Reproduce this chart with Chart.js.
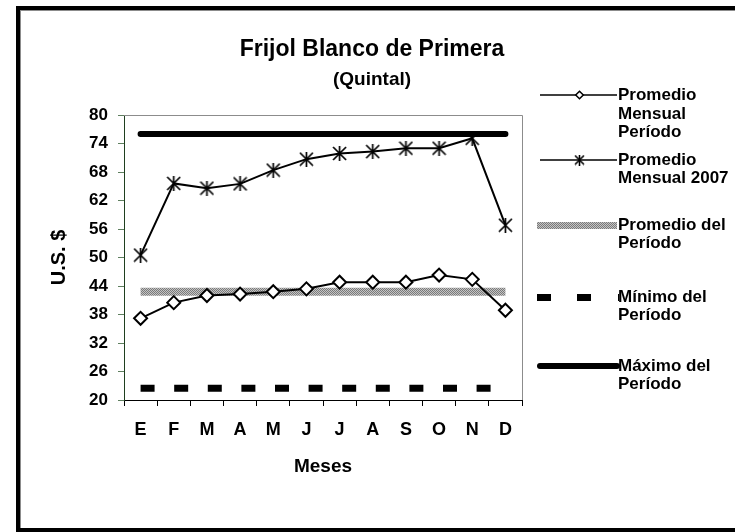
<!DOCTYPE html>
<html>
<head>
<meta charset="utf-8">
<script src="https://cdn.jsdelivr.net/npm/chart.js@4.4.0/dist/chart.umd.min.js"></script>
<style>
  html, body { margin: 0; padding: 0; background: #fff; overflow: hidden; }
  #wrap { position: relative; width: 735px; height: 532px; }
</style>
</head>
<body>
<div id="wrap"><canvas id="chart" width="735" height="532"></canvas></div>
<script>
/* ---------- Data ---------- */

const months = ['E', 'F', 'M', 'A', 'M', 'J', 'J', 'A', 'S', 'O', 'N', 'D'];
const promMensualPeriodo = [37.2, 40.5, 42.0, 42.3, 42.8, 43.4, 44.8, 44.8, 44.8, 46.3, 45.4, 38.9];
const promMensual2007 = [50.5, 65.6, 64.6, 65.5, 68.4, 70.7, 71.9, 72.3, 73.0, 73.0, 75.1, 56.8];
const promedioPeriodo = 42.8;
const minimoPeriodo = 22.5;
const maximoPeriodo = 76.0;
const yTicks = [20, 26, 32, 38, 44, 50, 56, 62, 68, 74, 80];

const chartTitle = 'Frijol Blanco de Primera';
const chartSubtitle = '(Quintal)';
const seriesLabels = [
  ['Promedio', 'Mensual', 'Período'],
  ['Promedio', 'Mensual 2007'],
  ['Promedio del', 'Período'],
  ['Mínimo del', 'Período'],
  ['Máximo del', 'Período'],
];

const FONT = "'Liberation Sans', Arial, sans-serif";

/* ---------- Marker / pattern helpers ---------- */

function makeAsterisk(size, lw) {
  const c = document.createElement('canvas');
  c.width = c.height = size;
  const g = c.getContext('2d');
  const m = size / 2, r = size / 2 - 1;
  g.strokeStyle = '#000';
  g.lineWidth = lw;
  g.beginPath();
  g.moveTo(m - r, m - r); g.lineTo(m + r, m + r);
  g.moveTo(m + r, m - r); g.lineTo(m - r, m + r);
  g.moveTo(m, 0); g.lineTo(m, size);
  g.stroke();
  return c;
}

function makeGrayPattern() {
  const c = document.createElement('canvas');
  c.width = c.height = 2;
  const g = c.getContext('2d');
  g.fillStyle = '#c4c4c4';
  g.fillRect(0, 0, 2, 2);
  g.fillStyle = '#7a7a7a';
  g.fillRect(0, 0, 1, 1);
  g.fillRect(1, 1, 1, 1);
  return g.createPattern(c, 'repeat');
}

const asterisk = makeAsterisk(15, 1.7);
const asteriskSmall = makeAsterisk(11, 1.6);
const grayPattern = makeGrayPattern();

/* ---------- Plugins ---------- */

// outer chart frame + plot-area border (top/right)
const framePlugin = {
  id: 'frame',
  beforeDraw(chart) {
    const ctx = chart.ctx;
    ctx.save();
    ctx.fillStyle = '#fff';
    ctx.fillRect(0, 0, chart.width, chart.height);
    ctx.fillStyle = '#000';
    ctx.fillRect(16, 6, chart.width - 16, 4);
    ctx.fillRect(16, 6, 4, chart.height - 6);
    ctx.fillRect(16, chart.height - 4, chart.width - 16, 4);
    ctx.fillStyle = '#8c8c8c';
    ctx.fillRect(20, 10, 1, chart.height - 14);
    ctx.fillRect(20, 10, chart.width - 20, 1);
    ctx.restore();
  },
  beforeDatasetsDraw(chart) {
    const { ctx, chartArea: a } = chart;
    ctx.save();
    ctx.strokeStyle = '#8c8c8c';
    ctx.lineWidth = 1;
    ctx.beginPath();
    ctx.moveTo(a.left, a.top + 0.5);
    ctx.lineTo(a.right + 0.5, a.top + 0.5);
    ctx.lineTo(a.right + 0.5, a.bottom);
    ctx.stroke();
    ctx.restore();
  },
};

// title is centred over the whole chart object (Excel style), not the plot
const headerPlugin = {
  id: 'header',
  afterDraw(chart) {
    const ctx = chart.ctx;
    ctx.save();
    ctx.fillStyle = '#000';
    ctx.textAlign = 'center';
    ctx.textBaseline = 'middle';
    ctx.font = 'bold 23px ' + FONT;
    ctx.fillText(chartTitle, 372, 50);
    ctx.font = 'bold 19px ' + FONT;
    ctx.fillText(chartSubtitle, 372, 80);
    ctx.restore();
  },
};

const sideLegend = {
  id: 'sideLegend',
  afterDraw(chart) {
    const ctx = chart.ctx;
    const x0 = 540, x1 = 617, tx = 618;
    const rows = [
      { y: 95, lines: [95, 114, 132] },
      { y: 160, lines: [160, 178] },
      { y: 225, lines: [225, 243] },
      { y: 297, lines: [297, 315] },
      { y: 366, lines: [366, 384] },
    ];
    ctx.save();
    rows.forEach((row, i) => {
      const xm = (x0 + x1) / 2 + 1;
      ctx.strokeStyle = '#000';
      ctx.lineCap = 'butt';
      if (i === 0 || i === 1) {
        ctx.lineWidth = 1.5;
        ctx.beginPath();
        ctx.moveTo(x0, row.y); ctx.lineTo(x1, row.y);
        ctx.stroke();
        if (i === 0) {
          const r = 3.8;
          ctx.fillStyle = '#fff';
          ctx.beginPath();
          ctx.moveTo(xm, row.y - r); ctx.lineTo(xm + r, row.y);
          ctx.lineTo(xm, row.y + r); ctx.lineTo(xm - r, row.y);
          ctx.closePath();
          ctx.fill(); ctx.stroke();
        } else {
          ctx.drawImage(asteriskSmall, xm - 5.5, row.y - 5.5);
        }
      } else if (i === 2) {
        ctx.fillStyle = grayPattern;
        ctx.fillRect(x0 - 3, row.y - 3, x1 - x0 + 3, 7);
      } else if (i === 3) {
        ctx.fillStyle = '#000';
        ctx.fillRect(x0 - 3, row.y - 3, 14, 7);
        ctx.fillRect(x0 + 37, row.y - 3, 14, 7);
        ctx.fillRect(x1 + 1, row.y - 3, 1, 7);
      } else {
        ctx.lineWidth = 6;
        ctx.lineCap = 'round';
        ctx.beginPath();
        ctx.moveTo(x0, row.y); ctx.lineTo(x1, row.y);
        ctx.stroke();
      }
      ctx.fillStyle = '#000';
      ctx.font = 'bold 17px ' + FONT;
      ctx.textAlign = 'left';
      ctx.textBaseline = 'middle';
      seriesLabels[i].forEach((t, k) => ctx.fillText(t, tx, row.lines[k]));
    });
    ctx.restore();
  },
};

/* ---------- Chart ---------- */

new Chart(document.getElementById('chart'), {
  type: 'line',
  data: {
    labels: months,
    datasets: [
      {
        label: seriesLabels[0].join(' '),
        data: promMensualPeriodo,
        borderColor: '#000',
        borderWidth: 2,
        pointStyle: 'rectRot',
        pointRadius: 6.5,
        pointBorderWidth: 2,
        pointBackgroundColor: '#fff',
        pointBorderColor: '#000',
        order: 1,
      },
      {
        label: seriesLabels[1].join(' '),
        data: promMensual2007,
        borderColor: '#000',
        borderWidth: 2,
        pointStyle: asterisk,
        pointRadius: 7,
        order: 0,
      },
      {
        label: seriesLabels[2].join(' '),
        data: months.map(() => promedioPeriodo),
        borderColor: grayPattern,
        borderWidth: 8,
        pointRadius: 0,
        order: 2,
      },
      {
        label: seriesLabels[3].join(' '),
        data: months.map(() => minimoPeriodo),
        borderColor: '#000',
        borderWidth: 7,
        borderDash: [14, 19.6],
        pointRadius: 0,
        order: 3,
      },
      {
        label: seriesLabels[4].join(' '),
        data: months.map(() => maximoPeriodo),
        borderColor: '#000',
        borderWidth: 6,
        borderCapStyle: 'round',
        pointRadius: 0,
        order: 4,
      },
    ],
  },
  options: {
    responsive: false,
    animation: false,
    layout: { padding: { left: 47, right: 213, top: 115, bottom: 54 } },
    scales: {
      x: {
        offset: true,
        grid: {
          offset: true,
          drawOnChartArea: false,
          drawTicks: true,
          tickLength: 6,
          color: '#000',
        },
        border: { color: '#000', width: 1 },
        ticks: {
          color: '#000',
          padding: 13,
          font: { family: FONT, size: 18, weight: 'bold' },
        },
        title: {
          display: true,
          text: 'Meses',
          color: '#000',
          padding: 0,
          font: { family: FONT, size: 19, weight: 'bold' },
        },
        afterFit(scale) { scale.height = 78; },
      },
      y: {
        min: 20,
        max: 80,
        afterBuildTicks(scale) { scale.ticks = yTicks.map((v) => ({ value: v })); },
        grid: {
          drawOnChartArea: false,
          drawTicks: true,
          tickLength: 6,
          color: '#5f7f5f',
        },
        border: { color: '#1f3f1f', width: 1 },
        ticks: {
          color: '#000',
          padding: 10,
          font: { family: FONT, size: 17, weight: 'bold' },
        },
        title: {
          display: true,
          text: 'U.S. $',
          color: '#000',
          padding: 0,
          font: { family: FONT, size: 20, weight: 'bold' },
        },
        afterFit(scale) { scale.width = 77; },
      },
    },
    plugins: {
      legend: { display: false },
      tooltip: { enabled: false },
    },
  },
  plugins: [framePlugin, headerPlugin, sideLegend],
});
</script>
</body>
</html>
